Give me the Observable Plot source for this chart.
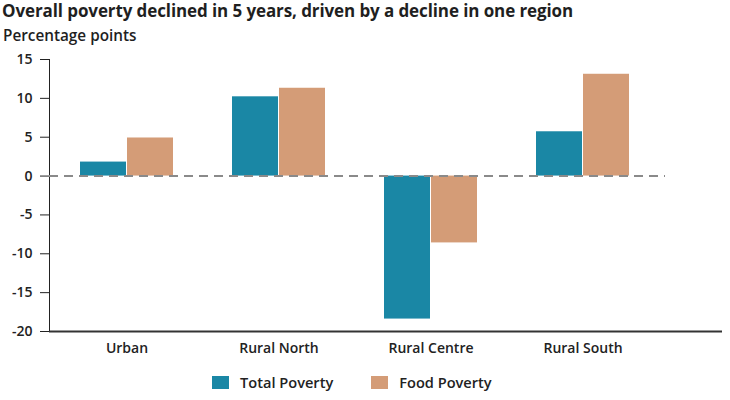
<!DOCTYPE html>
<html>
<head>
<meta charset="utf-8">
<script src="https://cdn.jsdelivr.net/npm/d3@7"></script>
<script src="https://cdn.jsdelivr.net/npm/@observablehq/plot@0.6"></script>
<style>
  body { margin: 0; background: #fff; font-family: "Open Sans", "Noto Sans", sans-serif; color: #1f1f1f; }
  #wrap { position: relative; width: 730px; height: 400px; overflow: hidden; }
  #title { position: absolute; left: 2px; top: -1px; font-size: 17px; font-weight: 700; letter-spacing: -0.1px; white-space: nowrap; }
  #subtitle { position: absolute; left: 3px; top: 25px; font-size: 15.3px; font-weight: 600; white-space: nowrap; }
  #chart { position: absolute; left: 0; top: 50px; }
  #legend { position: absolute; left: 212px; top: 372px; display: flex; align-items: center; font-size: 14.6px; font-weight: 600; color: #222; }
  .item { display: flex; align-items: center; margin-right: 38px; }
  .sw { width: 17px; height: 13px; margin-right: 11px; }
</style>
</head>
<body>
<div id="wrap">
  <div id="title">Overall poverty declined in 5 years, driven by a decline in one region</div>
  <div id="subtitle">Percentage points</div>
  <div id="chart"></div>
  <div id="legend"></div>
</div>
<script>
// Change in poverty rate by region, percentage points
const regions = ["Urban", "Rural North", "Rural Centre", "Rural South"];
const totalPoverty = [1.8, 10.2, -18.4, 5.7];
const foodPoverty = [4.9, 11.3, -8.6, 13.1];
const seriesNames = ["Total Poverty", "Food Poverty"];
const seriesColors = ["#1a87a5", "#d49c77"];
const yTicks = [-20, -15, -10, -5, 0, 5, 10, 15];

const rows = regions.map((region, i) => ({region, total: totalPoverty[i], food: foodPoverty[i]}));

const chart = Plot.plot({
  width: 730,
  height: 312,
  marginTop: 9,
  marginBottom: 31,
  marginLeft: 49,
  marginRight: 8,
  style: {fontFamily: "'Open Sans', sans-serif", fontSize: "14px", fontWeight: 600, color: "#222", background: "white"},
  x: {domain: regions, range: [49, 660], paddingInner: 0.385, paddingOuter: 0.19, label: null, tickSize: 0, tickPadding: 12},
  y: {domain: [-20, 15], ticks: yTicks, tickFormat: d => String(d), label: null, tickSize: 9, tickPadding: 8, line: true},
  marks: [
    Plot.barY(rows, {x: "region", y: "total", fill: seriesColors[0], insetRight: 47}),
    Plot.barY(rows, {x: "region", y: "food", fill: seriesColors[1], insetLeft: 47}),
    Plot.ruleY([0], {stroke: "#8a8a8a", strokeWidth: 2, strokeDasharray: "9,6", insetRight: 57}),
    Plot.ruleY([-20], {stroke: "#333", strokeWidth: 2})
  ]
});
document.getElementById("chart").appendChild(chart);

// Legend
const legend = document.getElementById("legend");
seriesNames.forEach((name, i) => {
  const item = document.createElement("div");
  item.className = "item";
  const sw = document.createElement("div");
  sw.className = "sw";
  sw.style.background = seriesColors[i];
  const label = document.createElement("span");
  label.textContent = name;
  item.appendChild(sw);
  item.appendChild(label);
  legend.appendChild(item);
});
</script>
</body>
</html>
